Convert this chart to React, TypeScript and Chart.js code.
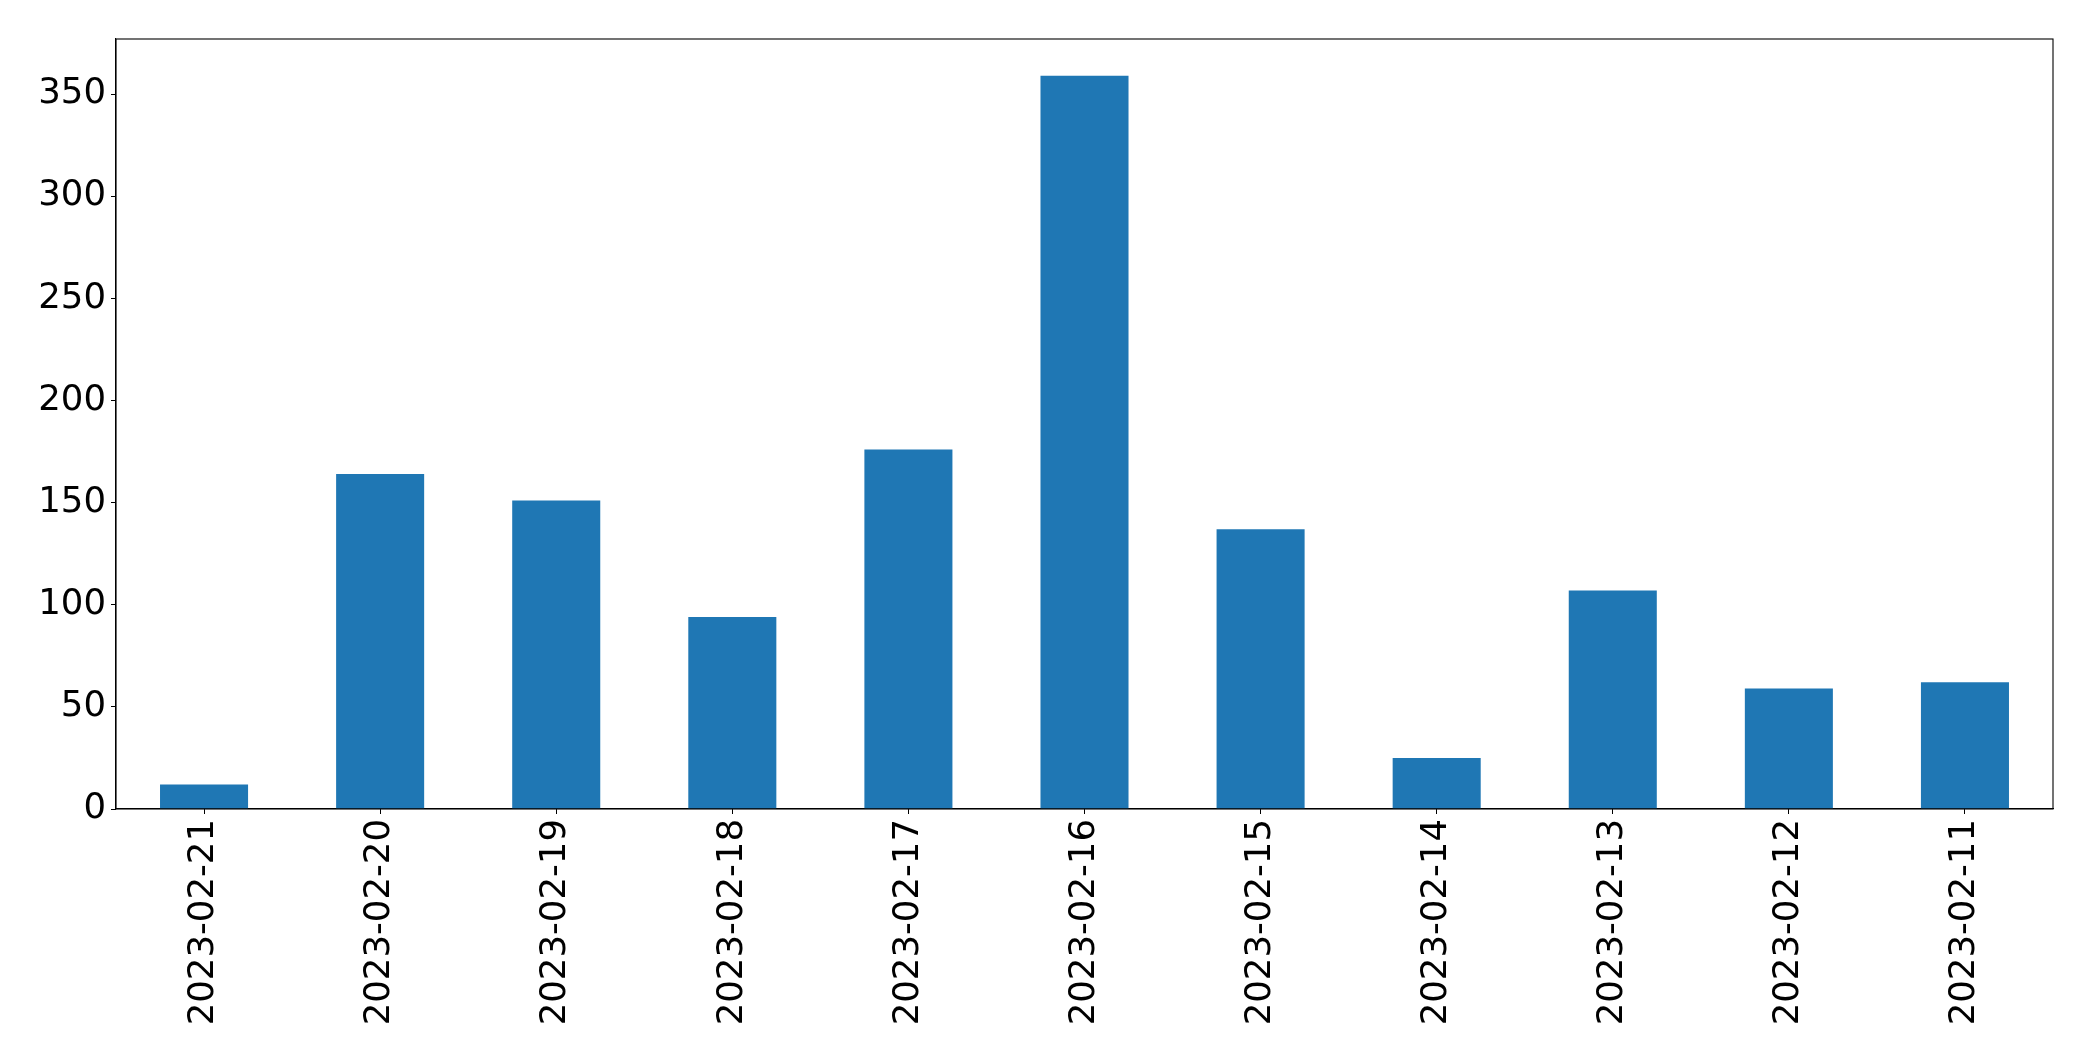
import React, { useEffect, useRef } from "react";
import { Chart, registerables } from "chart.js";

Chart.register(...registerables);

const categories = [
  "2023-02-21",
  "2023-02-20",
  "2023-02-19",
  "2023-02-18",
  "2023-02-17",
  "2023-02-16",
  "2023-02-15",
  "2023-02-14",
  "2023-02-13",
  "2023-02-12",
  "2023-02-11",
];
const counts = [12, 164, 151, 94, 176, 359, 137, 25, 107, 59, 62];
const yTickStep = 50;

const W = 2093;
const H = 1061;

const framePlugin = {
  id: "frame",
  afterDraw(chart: any) {
    const { ctx, chartArea } = chart;
    ctx.save();
    ctx.strokeStyle = "#000";
    ctx.lineWidth = 1.1;
    ctx.strokeRect(chartArea.left, chartArea.top, chartArea.right - chartArea.left, chartArea.bottom - chartArea.top);
    ctx.restore();
  },
};

export default function App() {
  const ref = useRef<HTMLCanvasElement | null>(null);
  useEffect(() => {
    document.body.style.margin = "0";
    const canvas = ref.current;
    if (!canvas) return;
    const yMax = Math.max(...counts) * 1.05;
    const font = { family: "'DejaVu Sans', sans-serif", size: 35.5 };
    const chart = new Chart(canvas, {
      type: "bar",
      data: {
        labels: categories,
        datasets: [
          {
            data: counts,
            backgroundColor: "#1f77b4",
            borderWidth: 0,
            barPercentage: 0.5,
            categoryPercentage: 1,
          },
        ],
      },
      options: {
        responsive: false,
        animation: false,
        devicePixelRatio: 1,
        layout: { padding: { top: 39, right: 40, left: 0, bottom: 0 } },
        plugins: { legend: { display: false }, tooltip: { enabled: false } },
        scales: {
          x: {
            type: "category",
            offset: true,
            grid: { drawOnChartArea: false, drawTicks: true, tickLength: 5, color: "#000", offset: false },
            border: { display: true, color: "#000", width: 1.1 },
            ticks: { color: "#000", font, minRotation: 90, maxRotation: 90, autoSkip: false, padding: 5 },
            afterFit(scale: any) {
              scale.height = 252;
            },
          },
          y: {
            min: 0,
            max: yMax,
            grid: { drawOnChartArea: false, drawTicks: true, tickLength: 5, color: "#000" },
            border: { display: true, color: "#000", width: 1.1 },
            ticks: { color: "#000", font, stepSize: yTickStep, padding: 5 },
            afterBuildTicks(scale: any) {
              scale.ticks = scale.ticks.filter((t: any) => t.value % yTickStep === 0);
            },
            afterFit(scale: any) {
              scale.width = 116;
            },
          },
        },
      },
      plugins: [framePlugin],
    });
    return () => chart.destroy();
  }, []);
  return (
    <div style={{ width: W, height: H, background: "#fff" }}>
      <canvas ref={ref} width={W} height={H} style={{ display: "block" }} />
    </div>
  );
}
